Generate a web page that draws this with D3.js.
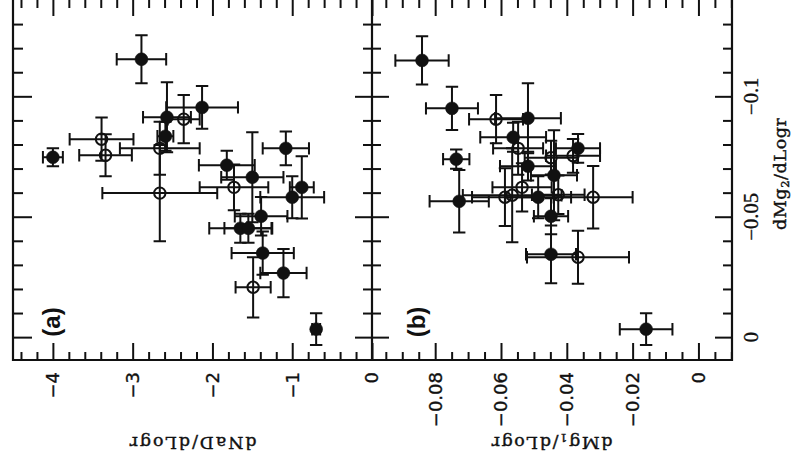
<!DOCTYPE html>
<html>
<head>
<meta charset="utf-8">
<script src="https://cdn.jsdelivr.net/npm/d3@7"></script>
<style>
  html, body { margin: 0; padding: 0; background: #fff; }
  svg { display: block; }
</style>
</head>
<body>
<svg id="chart" width="793" height="462"></svg>
<script>
// ---- Panel (a): NaD gradient against Mg2 gradient ----
const naD     = [-2.89, -2.13, -2.36, -2.57, -2.59, -2.66, -3.39, -3.34, -4.00, -1.08, -1.82, -1.50,
                 -1.73, -2.66, -0.88, -1.00, -1.39, -1.65, -1.55, -1.37, -1.11, -1.49, -0.70];
const naDErr  = [0.31, 0.45, 0.20, 0.30, 0.10, 0.50, 0.40, 0.33, 0.125, 0.29, 0.35, 0.39,
                 0.43, 0.72, 0.15, 0.40, 0.33, 0.39, 0.30, 0.39, 0.29, 0.22, 0.05];
const mg2A    = [-0.1154, -0.0954, -0.0905, -0.0913, -0.0834, -0.0784, -0.0822, -0.0755, -0.0747, -0.0784,
                 -0.0714, -0.0664, -0.0622, -0.0598, -0.0622, -0.0581, -0.0502, -0.0452, -0.0452, -0.0349,
                 -0.0266, -0.0207, -0.0033];
const mg2AErr = [0.0100, 0.0089, 0.0100, 0.0145, 0.0060, 0.0110, 0.0090, 0.0087, 0.0037, 0.0070,
                 0.0060, 0.0187, 0.0095, 0.0200, 0.0129, 0.0087, 0.0080, 0.0060, 0.0060, 0.0090,
                 0.0100, 0.0125, 0.0066];
const filledA = [1, 1, 0, 1, 1, 0, 0, 0, 1, 1, 1, 1, 0, 0, 1, 1, 1, 1, 1, 1, 1, 0, 1];

// ---- Panel (b): Mg1 gradient against Mg2 gradient ----
const mg1     = [-0.0840, -0.0749, -0.0615, -0.0518, -0.0563, -0.0548, -0.0366, -0.0736, -0.0448, -0.0381,
                 -0.0518, -0.0439, -0.0536, -0.0727, -0.0588, -0.0566, -0.0487, -0.0426, -0.0320, -0.0448,
                 -0.0448, -0.0366, -0.0159];
const mg1Err  = [0.0081, 0.0079, 0.0082, 0.0100, 0.0100, 0.0076, 0.0067, 0.0040, 0.0080, 0.0082,
                 0.0085, 0.0070, 0.0090, 0.0090, 0.0100, 0.0150, 0.0100, 0.0080, 0.0120, 0.0052,
                 0.0076, 0.0155, 0.0080];
const mg2B    = [-0.1149, -0.0950, -0.0905, -0.0909, -0.0830, -0.0784, -0.0784, -0.0739, -0.0745, -0.0753,
                 -0.0710, -0.0672, -0.0622, -0.0564, -0.0581, -0.0589, -0.0581, -0.0591, -0.0581, -0.0502,
                 -0.0344, -0.0332, -0.0033];
const mg2BErr = [0.0100, 0.0090, 0.0100, 0.0145, 0.0060, 0.0110, 0.0060, 0.0040, 0.0070, 0.0070,
                 0.0060, 0.0187, 0.0100, 0.0130, 0.0120, 0.0195, 0.0087, 0.0080, 0.0130, 0.0075,
                 0.0120, 0.0110, 0.0066];
const filledB = [1, 1, 0, 1, 1, 0, 1, 1, 0, 0, 1, 1, 0, 1, 0, 0, 1, 0, 0, 1, 1, 0, 1];

// ---- Tick values and labels ----
const naDTicks      = [-4, -3, -2, -1, 0];
const naDTickLabels = ["\u22124", "\u22123", "\u22122", "\u22121", "0"];
const mg1Ticks      = [-0.08, -0.06, -0.04, -0.02, 0];
const mg1TickLabels = ["\u22120.08", "\u22120.06", "\u22120.04", "\u22120.02", "0"];
const mg2Ticks      = [-0.1, -0.05, 0];
const mg2TickLabels = ["\u22120.1", "\u22120.05", "0"];

// ---- Geometry ----
const edgeL = 13, edgeM = 372, edgeR = 732, edgeT = 0, edgeB = 360;
const ink = "#111";

const xA = d3.scaleLinear().domain([-4.5, 0]).range([edgeL, edgeM]);
const xB = d3.scaleLinear().domain([-0.0992, 0.0102]).range([edgeM, edgeR]);
const y  = d3.scaleLinear().domain([0.0095, -0.14]).range([edgeB, edgeT]);

const svg = d3.select("#chart");

// minor tick positions
const near = (a, b) => Math.abs(a - b) < 1e-9;
const minorA = d3.range(-44, 1, 2).map(d => d / 10).filter(v => !naDTicks.some(t => near(t, v)));
const minorB = d3.range(-95, 11, 5).map(d => d / 1000)
  .filter(v => v > -0.0992 && v < 0.0102 && !mg1Ticks.some(t => near(t, v)));
const minorY = d3.range(-13, 1).map(d => d / 100).filter(v => !mg2Ticks.some(t => near(t, v)));

function tickAxis(axis, values, size, tx, ty) {
  const g = svg.append("g")
    .attr("transform", `translate(${tx},${ty})`)
    .call(axis.tickValues(values).tickSize(size).tickFormat(""));
  g.select(".domain").remove();
  g.selectAll(".tick line").attr("stroke", ink).attr("stroke-width", 2);
  return g;
}

// horizontal axes: ticks inward on bottom and top edges
[[xA, minorA, naDTicks], [xB, minorB, mg1Ticks]].forEach(([sc, minor, major]) => {
  tickAxis(d3.axisBottom(sc), minor, -8, 0, edgeB);
  tickAxis(d3.axisBottom(sc), major, -17, 0, edgeB);
  tickAxis(d3.axisTop(sc), minor, -8, 0, edgeT);
  tickAxis(d3.axisTop(sc), major, -16, 0, edgeT);
});

// vertical axis: left edge, both sides of the divider, right edge
tickAxis(d3.axisLeft(y), minorY, -10, edgeL, 0);
tickAxis(d3.axisLeft(y), mg2Ticks, -19, edgeL, 0);
tickAxis(d3.axisLeft(y), minorY, -9, edgeM, 0);
tickAxis(d3.axisLeft(y), mg2Ticks, -17, edgeM, 0);
tickAxis(d3.axisRight(y), minorY, -9, edgeM, 0);
tickAxis(d3.axisRight(y), mg2Ticks, -17, edgeM, 0);
tickAxis(d3.axisRight(y), minorY, -9, edgeR, 0);
tickAxis(d3.axisRight(y), mg2Ticks, -17, edgeR, 0);

// frame
const frame = svg.append("g").attr("stroke", ink).attr("stroke-width", 2.2).attr("fill", "none");
frame.append("path").attr("d",
  `M${edgeL},${edgeT - 1.2}V${edgeB}H${edgeR}V${edgeT - 1.2}H${edgeL}Z M${edgeM},${edgeT - 1.2}V${edgeB}`);

// ---- error bars and symbols ----
const cap = 6.2;
function drawPanel(xs, xErr, ys, yErr, filled, sx) {
  const g = svg.append("g");
  const pts = xs.map((v, i) => ({ x: v, xe: xErr[i], y: ys[i], ye: yErr[i], f: filled[i] }));
  const bars = g.append("g").attr("stroke", ink).attr("stroke-width", 2).attr("fill", "none");
  pts.forEach(p => {
    const cx = sx(p.x), cy = y(p.y);
    const x0 = sx(p.x - p.xe), x1 = sx(p.x + p.xe);
    const y0 = y(p.y - p.ye), y1 = y(p.y + p.ye);
    bars.append("path").attr("d",
      `M${x0},${cy}H${x1}` +
      `M${x0},${cy - cap}V${cy + cap}M${x1},${cy - cap}V${cy + cap}` +
      `M${cx},${y0}V${y1}` +
      `M${cx - cap},${y0}H${cx + cap}M${cx - cap},${y1}H${cx + cap}`);
  });
  g.append("g").selectAll("circle").data(pts).join("circle")
    .attr("cx", d => sx(d.x))
    .attr("cy", d => y(d.y))
    .attr("r", d => d.f ? 6.4 : 5.7)
    .attr("fill", d => d.f ? ink : "none")
    .attr("stroke", ink)
    .attr("stroke-width", d => d.f ? 0.6 : 2);
}
drawPanel(naD, naDErr, mg2A, mg2AErr, filledA, xA);
drawPanel(mg1, mg1Err, mg2B, mg2BErr, filledB, xB);

// ---- tick labels (rotated) ----
const sans = "'DejaVu Sans', sans-serif";
const serif = "'DejaVu Serif', serif";

function bottomLabels(sc, vals, labels) {
  svg.append("g").selectAll("text").data(vals).join("text")
    .attr("transform", d => `translate(${sc(d)},372) rotate(-90)`)
    .attr("text-anchor", "end")
    .attr("dy", "0.36em")
    .attr("font-family", sans)
    .attr("font-size", 18)
    .attr("fill", ink)
    .attr("stroke", ink)
    .attr("stroke-width", 0.35)
    .text((d, i) => labels[i]);
}
bottomLabels(xA, naDTicks, naDTickLabels);
bottomLabels(xB, mg1Ticks, mg1TickLabels);

svg.append("g").selectAll("text").data(mg2Ticks).join("text")
  .attr("transform", d => `translate(758,${y(d)}) rotate(-90)`)
  .attr("text-anchor", "middle")
  .attr("font-family", "'Liberation Serif', serif")
  .attr("font-size", 20.5)
  .attr("fill", ink)
  .attr("stroke", ink)
  .attr("stroke-width", 0.35)
  .text((d, i) => mg2TickLabels[i]);

// ---- axis titles ----
function title(tx, ty, rot, parts, len) {
  const t = svg.append("text")
    .attr("transform", `translate(${tx},${ty}) rotate(${rot})`)
    .attr("text-anchor", "middle")
    .attr("font-family", serif)
    .attr("font-size", 17.5)
    .attr("fill", ink)
    .attr("stroke", ink)
    .attr("stroke-width", 0.4)
    .attr("textLength", len)
    .attr("lengthAdjust", "spacing");
  parts.forEach(([s, sub]) => {
    const ts = t.append("tspan").text(s);
    if (sub) ts.attr("font-size", 11.5).attr("baseline-shift", "-22%");
  });
}
title(193, 437, 180, [["dNaD/dLogr", false]], 127);
title(552, 437, 180, [["dMg", false], ["1", true], ["/dLogr", false]], 121);
title(786, 174, -90, [["dMg", false], ["2", true], ["/dLogr", false]], 112);

// ---- panel tags ----
[["(a)", 51], ["(b)", 416]].forEach(([s, cx]) => {
  svg.append("text")
    .attr("transform", `translate(${cx},322) rotate(-90)`)
    .attr("text-anchor", "middle")
    .attr("dy", "0.36em")
    .attr("font-family", "'Liberation Sans', Arial, sans-serif")
    .attr("font-weight", "bold")
    .attr("font-size", 24)
    .attr("fill", ink)
    .text(s);
});
</script>
</body>
</html>
